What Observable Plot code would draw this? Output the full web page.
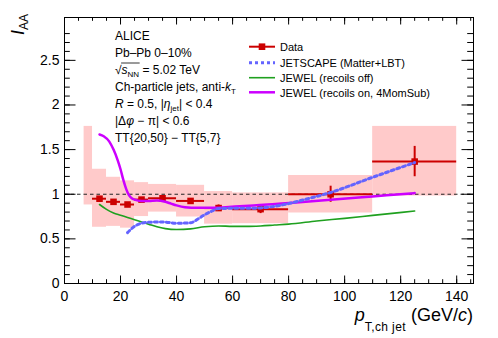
<!DOCTYPE html>
<html><head><meta charset="utf-8">
<script src="https://cdn.jsdelivr.net/npm/d3@7"></script>
<script src="https://cdn.jsdelivr.net/npm/@observablehq/plot@0.6"></script>
<style>html,body{margin:0;padding:0;background:#fff;overflow:hidden}svg{display:block}</style>
</head><body><div id="chart"></div>
<script>
// ---- data: measured points (bin centres, bin edges, values, stat errors)
const dataX   = [12.5, 17.5, 22.5, 27.5, 35, 45, 55, 70, 95, 125];
const binLo   = [10, 15, 20, 25, 30, 40, 50, 60, 80, 110];
const binHi   = [15, 20, 25, 30, 40, 50, 60, 80, 110, 140];
const dataY   = [0.95, 0.915, 0.885, 0.94, 0.955, 0.925, 0.845, 0.833, 1.0, 1.366];
const statErr = [0.02, 0.015, 0.02, 0.02, 0.02, 0.02, 0.035, 0.05, 0.09, 0.17];
// ---- systematic uncertainty boxes
const boxX1 = [7, 10, 15, 20, 25, 30, 40, 50, 60, 80, 110];
const boxX2 = [10, 15, 20, 25, 30, 40, 50, 60, 80, 110, 140];
const boxY1 = [0.88, 0.63, 0.64, 0.62, 0.75, 0.80, 0.745, 0.665, 0.67, 0.79, 0.98];
const boxY2 = [1.76, 1.28, 1.19, 1.15, 1.13, 1.11, 1.10, 1.03, 1.015, 1.21, 1.76];
// ---- JETSCAPE (Matter+LBT)
const jsX = [22.5, 25, 27.5, 30, 35, 40, 45, 47.5, 50, 52.5, 55, 60, 65, 70, 75, 80, 85, 95, 110, 125];
const jsY = [0.57, 0.64, 0.675, 0.685, 0.69, 0.675, 0.68, 0.72, 0.77, 0.81, 0.84, 0.842, 0.842, 0.847, 0.865, 0.895, 0.935, 1.02, 1.19, 1.355];
// ---- JEWEL (recoils off)
const joffX = [12.5, 15, 17.5, 20, 22.5, 25, 27.5, 30, 33, 36, 40, 45, 50, 55, 60, 65, 70, 75, 80, 90, 100, 110, 125];
const joffY = [0.885, 0.83, 0.79, 0.765, 0.74, 0.715, 0.69, 0.665, 0.635, 0.615, 0.605, 0.612, 0.635, 0.645, 0.64, 0.64, 0.645, 0.655, 0.665, 0.70, 0.73, 0.763, 0.812];
// ---- JEWEL (recoils on, 4MomSub)
const jonX = [12.5, 14, 16, 17.5, 19, 20, 21, 22, 23, 24, 25, 27.5, 30, 33, 36, 38, 40, 43, 47.5, 52.5, 57.5, 62.5, 67.5, 72.5, 77.5, 85, 95, 105, 115, 125];
const jonY = [1.67, 1.65, 1.59, 1.50, 1.38, 1.28, 1.16, 1.06, 0.99, 0.955, 0.94, 0.925, 0.925, 0.93, 0.915, 0.895, 0.875, 0.855, 0.848, 0.848, 0.855, 0.865, 0.875, 0.885, 0.895, 0.913, 0.938, 0.963, 0.988, 1.013];
// ---- ticks
const xTickLabels = [0, 20, 40, 60, 80, 100, 120, 140];
const yTickLabels = [0, 0.5, 1, 1.5, 2, 2.5];
const xMinor = d3.range(0, 146, 5);
const yMinor = d3.range(0, 29).map(i => i / 10);

const FONT = "'Liberation Sans', Arial, Helvetica, sans-serif";
const RED = "#cc0000", PINK = "#ffcaca", BLUE = "#6464ff", GREEN = "#1fa01f", MAG = "#cc00ff";
const W = 498, H = 338, mL = 64, mR = 25, mT = 17, mB = 55;
const iw = W - mL - mR, ih = H - mT - mB;

const boxes = boxX1.map((x1, i) => ({x1, x2: boxX2[i], y1: boxY1[i], y2: boxY2[i]}));
const pts = dataX.map((x, i) => ({x, y: dataY[i], lo: binLo[i], hi: binHi[i], e: statErr[i]}));
const mk = (xs, ys) => xs.map((x, i) => ({x, y: ys[i]}));

const plot = Plot.plot({
  width: W, height: H, marginLeft: mL, marginRight: mR, marginTop: mT, marginBottom: mB,
  x: {domain: [0, 146]}, y: {domain: [0, 2.98]},
  style: {fontFamily: FONT, background: "white", color: "black"},
  marks: [
    Plot.rect(boxes, {x1: "x1", x2: "x2", y1: "y1", y2: "y2", fill: PINK}),
    Plot.ruleY([1], {stroke: "#222", strokeDasharray: "3.5,3", strokeWidth: 1}),
    Plot.ruleY(pts, {y: "y", x1: "lo", x2: "hi", stroke: RED, strokeWidth: 2}),
    Plot.ruleX(pts, {x: "x", y1: d => d.y - d.e, y2: d => d.y + d.e, stroke: RED, strokeWidth: 2}),
    Plot.dot(pts, {x: "x", y: "y", symbol: "square", r: 3.7, fill: RED, stroke: "none"}),
    Plot.line(mk(joffX, joffY), {x: "x", y: "y", stroke: GREEN, strokeWidth: 1.6, curve: "monotone-x"}),
    Plot.line(mk(jonX, jonY), {x: "x", y: "y", stroke: MAG, strokeWidth: 2.5, curve: "monotone-x"}),
    Plot.line(mk(jsX, jsY), {x: "x", y: "y", stroke: BLUE, strokeWidth: 3, strokeDasharray: "3,3", curve: "monotone-x"}),
    // inside ticks (ROOT style)
    Plot.tickX(xTickLabels, {x: d => d, insetTop: ih - 7.5, stroke: "black"}),
    Plot.tickX(xMinor, {x: d => d, insetTop: ih - 3.8, stroke: "black"}),
    Plot.tickX(xTickLabels, {x: d => d, insetBottom: ih - 7.5, stroke: "black"}),
    Plot.tickX(xMinor, {x: d => d, insetBottom: ih - 3.8, stroke: "black"}),
    Plot.tickY(yTickLabels, {y: d => d, insetRight: iw - 11.5, stroke: "black"}),
    Plot.tickY(yMinor, {y: d => d, insetRight: iw - 5.8, stroke: "black"}),
    Plot.tickY(yTickLabels, {y: d => d, insetLeft: iw - 11.5, stroke: "black"}),
    Plot.tickY(yMinor, {y: d => d, insetLeft: iw - 5.8, stroke: "black"}),
    Plot.frame({stroke: "black", strokeWidth: 1}),
    Plot.axisX({ticks: xTickLabels, tickSize: 0, tickPadding: 8, fontSize: 14, label: null, tickFormat: d => String(d)}),
    Plot.axisY({ticks: yTickLabels, tickSize: 0, tickPadding: 5, fontSize: 14, label: null, tickFormat: d => String(d)})
  ]
});
document.getElementById("chart").append(plot);
const svg = d3.select(plot);

// rich text helper: parts = [{t, i (italic), sub (true)}]
function rich(g, x, y, parts, size, subSize, subDy, anchor) {
  const t = g.append("text").attr("x", x).attr("y", y).attr("font-size", size)
    .attr("font-family", FONT).attr("fill", "black").attr("text-anchor", anchor || "start");
  let inSub = false;
  for (const p of parts) {
    const s = t.append("tspan").text(p.t);
    if (p.i) s.attr("font-style", "italic");
    if (p.sub && !inSub) { s.attr("dy", subDy); inSub = true; }
    else if (!p.sub && inSub) { s.attr("dy", -subDy); inSub = false; }
    if (p.sub) s.attr("font-size", subSize);
    if (p.ls) s.attr("letter-spacing", p.ls);
  }
  return t;
}

// annotations
const ax = 115, ann = svg.append("g");
rich(ann, ax, 40, [{t: "ALICE"}], 12);
rich(ann, ax, 57, [{t: "Pb\u2013Pb 0\u201310%"}], 12);
const sq = rich(ann, ax, 74, [{t: "\u221A"}, {t: "s", i: true}, {t: "NN", sub: true}, {t: " = 5.02 TeV"}], 12, 8, 3);
{
  const n = sq.node();
  const x0 = n.getStartPositionOfChar(1).x, x1 = n.getEndPositionOfChar(3).x;
  ann.append("line").attr("x1", x0 - 0.5).attr("x2", x1 + 0.5).attr("y1", 74 - 11).attr("y2", 74 - 11)
    .attr("stroke", "black").attr("stroke-width", 0.8);
}
rich(ann, ax, 91, [{t: "Ch-particle jets, anti-"}, {t: "k", i: true}, {t: "T", sub: true}], 12, 8, 3);
rich(ann, ax, 108, [{t: "R", i: true}, {t: " = 0.5, |"}, {t: "\u03B7", i: true}, {t: "jet", sub: true}, {t: "| < 0.4"}], 12, 8, 3);
rich(ann, ax, 125, [{t: "|\u0394"}, {t: "\u03C6", i: true}, {t: " \u2212 \u03C0| < 0.6"}], 12);
rich(ann, ax, 142, [{t: "TT{20,50} \u2212 TT{5,7}"}], 12);

// legend
const lg = svg.append("g");
const lx1 = 249, lx2 = 275, ltx = 280;
const rows = [46.7, 62.7, 77.7, 92.3];
const labels = ["Data", "JETSCAPE (Matter+LBT)", "JEWEL (recoils off)", "JEWEL (recoils on, 4MomSub)"];
lg.append("line").attr("x1", lx1).attr("x2", lx2).attr("y1", rows[0]).attr("y2", rows[0]).attr("stroke", RED).attr("stroke-width", 2);
lg.append("rect").attr("x", (lx1 + lx2) / 2 - 3.3).attr("y", rows[0] - 3.3).attr("width", 6.6).attr("height", 6.6).attr("fill", RED);
lg.append("line").attr("x1", lx1).attr("x2", lx2).attr("y1", rows[1]).attr("y2", rows[1]).attr("stroke", BLUE).attr("stroke-width", 3).attr("stroke-dasharray", "3,3");
lg.append("line").attr("x1", lx1).attr("x2", lx2).attr("y1", rows[2]).attr("y2", rows[2]).attr("stroke", GREEN).attr("stroke-width", 1.6);
lg.append("line").attr("x1", lx1).attr("x2", lx2).attr("y1", rows[3]).attr("y2", rows[3]).attr("stroke", MAG).attr("stroke-width", 2.5);
labels.forEach((l, i) => rich(lg, ltx, rows[i] + 4.2, [{t: l}], 11));

// axis titles
rich(svg, 473, 321, [{t: "p", i: true}, {t: "T,ch jet", sub: true, ls: 0.4}, {t: " (GeV/"}, {t: "c", i: true}, {t: ")"}], 18, 12, 10, "end");
const yt = svg.append("g").attr("transform", "translate(24,14) rotate(-90)");
rich(yt, 0, 0, [{t: "I", i: true}, {t: "AA", sub: true}], 18, 12, 4, "end");
</script>
</body></html>
